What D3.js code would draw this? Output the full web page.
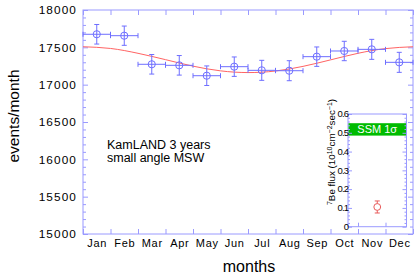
<!DOCTYPE html>
<html>
<head>
<meta charset="utf-8">
<script src="https://cdn.jsdelivr.net/npm/d3@7"></script>
<style>
  html, body { margin: 0; padding: 0; background: #fff; }
  svg { display: block; font-family: "Liberation Sans", Arial, Helvetica, sans-serif; }
</style>
</head>
<body>
<svg id="chart" width="415" height="275"></svg>
<script>
// ---- data ----
const months = ["Jan","Feb","Mar","Apr","May","Jun","Jul","Aug","Sep","Oct","Nov","Dec"];
const events = [17675,17656,17273,17259,17120,17241,17192,17187,17375,17451,17473,17299];
const eventErrors = [131,129,131,131,131,130,134,134,130,130,134,134];
// model curve read at month boundaries (0 = Jan 1 ... 12 = Dec 31)
const modelBoundaries = [0,1,2,3,4,5,6,7,8,9,10,11,12];
const modelValues = [17508,17485,17420,17335,17248,17185,17162,17183,17245,17332,17420,17483,17508];
const yTicks = [15000,15500,16000,16500,17000,17500,18000];
// inset
const insetTicks = [0,0.1,0.2,0.3,0.4,0.5,0.6];
const insetTickLabels = ["0","0.1","0.2","0.3","0.4","0.5","0.6"];
const ssmBand = [0.485, 0.551];
const be7Flux = 0.105;
const be7Err = 0.032;

// ---- layout ----
const svg = d3.select("#chart");
const X0 = 83, X1 = 413, Y0 = 234, Y1 = 10;
const axisCol = "#9a9aff";
const ptCol = "#6e6eff";
const curveCol = "#ff6464";

const x = d3.scaleLinear().domain([0,12]).range([X0, X1]);
const y = d3.scaleLinear().domain([15000,18000]).range([Y0, Y1]);

// frame
svg.append("rect").attr("x",X0).attr("y",Y1).attr("width",X1-X0).attr("height",Y0-Y1)
  .attr("fill","none").attr("stroke",axisCol).attr("stroke-width",1);

function styleAxis(g){
  g.select(".domain").remove();
  g.selectAll(".tick line").attr("stroke",axisCol);
}
const bounds = d3.range(0,13);
const minorY = d3.range(15000,18001,100).filter(v => v % 500 !== 0);

// left axis
svg.append("g").attr("transform",`translate(${X0},0)`)
  .call(d3.axisLeft(y).tickValues(yTicks).tickSize(-5).tickPadding(6).tickFormat(d3.format("d")))
  .call(styleAxis)
  .call(g => g.selectAll("text").attr("fill","#000").style("font-size","11.8px").style("letter-spacing","1.1px")
     .style("font-family","'Liberation Sans', Arial, sans-serif"));
svg.append("g").attr("transform",`translate(${X0},0)`)
  .call(d3.axisLeft(y).tickValues(minorY).tickSize(-3).tickFormat(""))
  .call(styleAxis);
// right axis
svg.append("g").attr("transform",`translate(${X1},0)`)
  .call(d3.axisRight(y).tickValues(yTicks).tickSize(-5).tickFormat(""))
  .call(styleAxis);
svg.append("g").attr("transform",`translate(${X1},0)`)
  .call(d3.axisRight(y).tickValues(minorY).tickSize(-3).tickFormat(""))
  .call(styleAxis);
// bottom axis ticks
svg.append("g").attr("transform",`translate(0,${Y0})`)
  .call(d3.axisBottom(x).tickValues(bounds).tickSize(-5).tickFormat(""))
  .call(styleAxis);
// top axis ticks
svg.append("g").attr("transform",`translate(0,${Y1})`)
  .call(d3.axisTop(x).tickValues(bounds).tickSize(-5).tickFormat(""))
  .call(styleAxis);
// month labels
svg.append("g").attr("transform",`translate(0,${Y0})`)
  .call(d3.axisBottom(x).tickValues(months.map((m,i)=>i+0.5)).tickSize(0).tickPadding(5.5)
        .tickFormat((d,i)=>months[i]))
  .call(g => g.select(".domain").remove())
  .call(g => g.selectAll("text").attr("fill","#000").style("font-size","11px").style("letter-spacing","0.7px")
     .style("font-family","'Liberation Sans', Arial, sans-serif"));

// model curve
const line = d3.line().x(d=>x(d[0])).y(d=>y(d[1])).curve(d3.curveNatural);
svg.append("path").datum(modelBoundaries.map((b,i)=>[b, modelValues[i]]))
  .attr("d", line).attr("fill","none").attr("stroke",curveCol).attr("stroke-width",1);

// data points with error bars
const pts = svg.append("g").attr("stroke",ptCol).attr("fill","none").attr("stroke-width",1);
months.forEach((m,i) => {
  const cx = x(i+0.5), cy = y(events[i]);
  const xl = x(i), xr = x(i+1);
  const yt = y(events[i]+eventErrors[i]), yb = y(events[i]-eventErrors[i]);
  pts.append("line").attr("x1",xl).attr("x2",xr).attr("y1",cy).attr("y2",cy);
  pts.append("line").attr("x1",xl).attr("x2",xl).attr("y1",cy-2.5).attr("y2",cy+2.5);
  pts.append("line").attr("x1",xr).attr("x2",xr).attr("y1",cy-2.5).attr("y2",cy+2.5);
  pts.append("line").attr("x1",cx).attr("x2",cx).attr("y1",yt).attr("y2",yb);
  pts.append("line").attr("x1",cx-2.5).attr("x2",cx+2.5).attr("y1",yt).attr("y2",yt);
  pts.append("line").attr("x1",cx-2.5).attr("x2",cx+2.5).attr("y1",yb).attr("y2",yb);
  pts.append("circle").attr("cx",cx).attr("cy",cy).attr("r",3.6).attr("fill","none");
});

// annotation
const ann = svg.append("text").attr("x",107).attr("y",148.5).attr("fill","#000").style("font-size","12.5px");
ann.append("tspan").attr("x",107).text("KamLAND 3 years");
ann.append("tspan").attr("x",107).attr("dy",13.3).text("small angle MSW");

// axis titles
svg.append("text").attr("transform","translate(19,116) rotate(-90)").attr("text-anchor","middle")
  .attr("fill","#000").style("font-size","15.5px").text("events/month");
svg.append("text").attr("x",249).attr("y",272).attr("text-anchor","middle")
  .attr("fill","#000").style("font-size","16px").text("months");

// ---- inset ----
const IX0 = 348, IX1 = 406.5, IY0 = 226.7, IY1 = 114;
const xi = d3.scaleLinear().domain([0,1]).range([IX0, IX1]);
const yi = d3.scaleLinear().domain([0,0.6]).range([IY0, IY1]);
const inset = svg.append("g");
inset.append("rect").attr("x",IX0).attr("y",IY1).attr("width",IX1-IX0).attr("height",IY0-IY1)
  .attr("fill","#fff").attr("stroke",axisCol);
// SSM band
inset.append("rect").attr("x",IX0+0.5).attr("width",IX1-IX0-1)
  .attr("y",yi(ssmBand[1])).attr("height",yi(ssmBand[0])-yi(ssmBand[1]))
  .attr("fill","#00bb00");
inset.append("text").attr("x",xi(0.5)).attr("y",(yi(ssmBand[0])+yi(ssmBand[1]))/2+4)
  .attr("text-anchor","middle").attr("fill","#fff").style("font-size","11px").text("SSM 1σ");
const minorI = d3.range(0,0.601,0.02).filter(v => Math.abs(v*10 - Math.round(v*10))>1e-6);
inset.append("g").attr("transform",`translate(${IX0},0)`)
  .call(d3.axisLeft(yi).tickValues(insetTicks).tickSize(-4).tickFormat("")).call(styleAxis);
inset.append("g").attr("transform",`translate(${IX0},0)`)
  .call(d3.axisLeft(yi).tickValues(minorI).tickSize(-2).tickFormat("")).call(styleAxis);
inset.append("g").attr("transform",`translate(${IX1},0)`)
  .call(d3.axisRight(yi).tickValues(insetTicks).tickSize(-4).tickFormat("")).call(styleAxis);
inset.append("g").attr("transform",`translate(${IX1},0)`)
  .call(d3.axisRight(yi).tickValues(minorI).tickSize(-2).tickFormat("")).call(styleAxis);
// inset tick labels
inset.append("g").selectAll("text").data(insetTicks).join("text")
  .attr("x", IX0 + 0.3).attr("y", d => yi(d)).attr("dy","0.35em")
  .attr("text-anchor","end").attr("fill","#000")
  .style("font-size","9.5px").style("letter-spacing","-0.8px")
  .text((d,i) => insetTickLabels[i]);
// inset bottom ticks aligned with month boundaries
inset.append("g").attr("transform",`translate(0,${IY0})`)
  .call(d3.axisBottom(x).tickValues([10,11]).tickSize(-4).tickFormat("")).call(styleAxis);
// Be7 point
const bcx = xi(0.5), bcy = yi(be7Flux);
const bp = inset.append("g").attr("stroke","#e85a5a").attr("fill","none");
bp.append("line").attr("x1",bcx).attr("x2",bcx).attr("y1",yi(be7Flux+be7Err)).attr("y2",yi(be7Flux-be7Err));
bp.append("line").attr("x1",bcx-2.5).attr("x2",bcx+2.5).attr("y1",yi(be7Flux+be7Err)).attr("y2",yi(be7Flux+be7Err));
bp.append("line").attr("x1",bcx-2.5).attr("x2",bcx+2.5).attr("y1",yi(be7Flux-be7Err)).attr("y2",yi(be7Flux-be7Err));
bp.append("circle").attr("cx",bcx).attr("cy",bcy).attr("r",3.4).attr("fill","#fff");
// inset y label
const il = inset.append("text").attr("transform","translate(335,152) rotate(-90)").attr("text-anchor","middle")
  .attr("fill","#000").style("font-size","9.8px");
il.append("tspan").attr("baseline-shift","super").style("font-size","7px").text("7");
il.append("tspan").text("Be flux (10");
il.append("tspan").attr("baseline-shift","super").style("font-size","7px").text("10");
il.append("tspan").text("cm");
il.append("tspan").attr("baseline-shift","super").style("font-size","7px").text("−2");
il.append("tspan").text("sec");
il.append("tspan").attr("baseline-shift","super").style("font-size","7px").text("−1");
il.append("tspan").text(")");
</script>
</body>
</html>
